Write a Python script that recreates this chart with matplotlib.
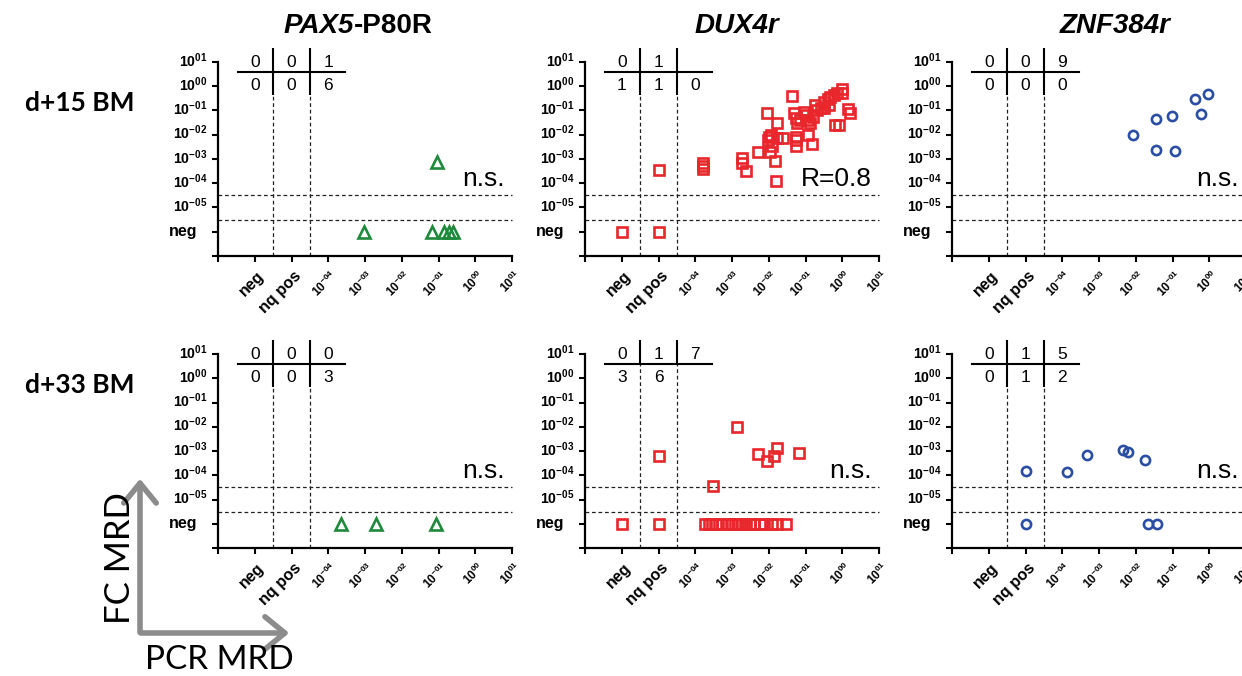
import matplotlib
matplotlib.use('Agg')
import matplotlib.pyplot as plt
from matplotlib.patches import FancyArrowPatch
from matplotlib.patches import ArrowStyle

plt.rcParams['font.family'] = ['Liberation Sans', 'DejaVu Sans']
plt.rcParams['mathtext.fontset'] = 'custom'
plt.rcParams['mathtext.rm'] = 'Liberation Sans'
plt.rcParams['mathtext.bf'] = 'Liberation Sans:bold'
plt.rcParams['mathtext.it'] = 'Liberation Sans:italic'

# ---------------- data (log10 MRD values; 'neg' / 'nq' = categories) -------------
genes = ["PAX5", "DUX4r", "ZNF384r"]
timepoints = ["d+15 BM", "d+33 BM"]
x_tick_labels = ["neg", "nq pos", "-04", "-03", "-02", "-01", "00", "01"]
y_tick_labels = ["neg", "-05", "-04", "-03", "-02", "-01", "00", "01"]

pax5_d15_pcr = [-3.04, -1.17, -0.86, -0.72, -0.60, -1.04]
pax5_d15_fc = ['neg', 'neg', 'neg', 'neg', 'neg', -3.11]

dux4_d15_pcr = ['neg', 'nq', 'nq', -3.78, -3.78, -3.78, -2.73, -2.73, -2.61, -2.28,
                -2.05, -2.00, -2.02, -1.95, -1.97, -1.83, -1.81, -1.77, -1.77, -1.60,
                -1.38, -1.31, -1.26, -1.22, -1.26, -1.26, -1.26, -1.05, -0.98, -0.92,
                -0.87, -0.93, -0.82, -0.73, -0.68, -0.59, -0.50, -0.40, -0.32, -0.23,
                -0.14, -0.50, -0.36, -0.20, -0.08, -0.02, -0.02, 0.16, 0.20, -1.15,
                -0.80, -1.90]
dux4_d15_fc = ['neg', 'neg', -3.45, -3.15, -3.28, -3.42, -2.97, -3.15, -3.50, -2.70,
               -1.12, -2.08, -2.20, -2.02, -2.70, -3.07, -3.90, -1.53, -2.15, -2.15,
               -0.40, -1.12, -1.32, -1.53, -2.08, -2.22, -2.46, -1.05, -1.19, -1.39,
               -1.53, -2.01, -2.38, -0.77, -0.98, -0.91, -0.64, -0.54, -0.46, -0.36,
               -0.29, -0.91, -0.77, -1.60, -1.60, -0.13, -0.29, -0.95, -1.09, -1.40,
               -1.25, -2.45]

znf_d15_pcr = [-2.08, -1.46, -1.01, -1.44, -0.92, -0.38, -0.04, -0.22]
znf_d15_fc = [-2.01, -1.37, -1.23, -2.63, -2.67, -0.54, -0.32, -1.14]

pax5_d33_pcr = [-3.65, -2.69, -1.06]
pax5_d33_fc = ['neg', 'neg', 'neg']

dux4_d33_pcr = ['neg', 'nq', 'nq', -3.53, -2.87, -2.30, -2.05, -1.87, -1.78, -1.18,
                -3.73, -3.63, -3.54, -3.43, -3.27, -3.10, -3.02, -2.91, -2.83, -2.72,
                -2.61, -2.50, -2.40, -2.23, -2.12, -1.91, -1.77, -1.53]
dux4_d33_fc = ['neg', 'neg', -3.19, -4.43, -1.99, -3.11, -3.40, -3.22, -2.88, -3.08,
               'neg', 'neg', 'neg', 'neg', 'neg', 'neg', 'neg', 'neg', 'neg', 'neg',
               'neg', 'neg', 'neg', 'neg', 'neg', 'neg', 'neg', 'neg']

znf_d33_pcr = ['nq', 'nq', -3.88, -3.32, -2.34, -2.21, -1.75, -1.68, -1.42]
znf_d33_fc = [-3.81, 'neg', -3.87, -3.15, -2.95, -3.03, -3.36, 'neg', 'neg']

# quadrant counts: top row (FC pos), bottom row (FC neg); columns PCR neg / nq / pos
counts_top = [[[0, 0, 1], [0, 1, ''], [0, 0, 9]],
              [[0, 0, 0], [0, 1, 7], [0, 1, 5]]]
counts_bottom = [[[0, 0, 6], [1, 1, 0], [0, 0, 0]],
                 [[0, 0, 3], [3, 6, ''], [0, 1, 2]]]
stat_labels = [["n.s.", "R=0.8", "n.s."], ["n.s.", "n.s.", "n.s."]]

pcr_data = [[pax5_d15_pcr, dux4_d15_pcr, znf_d15_pcr], [pax5_d33_pcr, dux4_d33_pcr, znf_d33_pcr]]
fc_data = [[pax5_d15_fc, dux4_d15_fc, znf_d15_fc], [pax5_d33_fc, dux4_d33_fc, znf_d33_fc]]

# ---------------- styles ---------------------------------------------------------
colors = ['#1f8a3c', '#e8262b', '#2a4ea6']
markers = ['^', 's', 'o']
msizes = [8.0, 6.5, 6.6]

W, H = 1242, 676
fig = plt.figure(figsize=(W / 100, H / 100), dpi=100)

col_x0 = [218, 585, 952]
row_y0 = [256, 548]
AW, AH = 294, 194


def pos(v):
    if v == 'neg':
        return 1.0
    if v == 'nq':
        return 2.0
    return v + 7.0


def exp_label(e):
    return r'$\mathbf{10^{%s}}$' % e


for r in range(2):
    for c in range(3):
        x0, y0 = col_x0[c], row_y0[r]
        ax = fig.add_axes([x0 / W, 1 - y0 / H, AW / W, AH / H])
        ax.set_xlim(0, 8)
        ax.set_ylim(0, 8)
        for s in ['top', 'right']:
            ax.spines[s].set_visible(False)
        for s in ['left', 'bottom']:
            ax.spines[s].set_linewidth(1.6)
        ax.set_xticks(range(9))
        ax.set_yticks(range(9))
        ax.set_xticklabels([])
        ax.set_yticklabels([])
        ax.tick_params(direction='out', length=4.5, width=1.5)

        # y tick labels
        for i, lab in enumerate(y_tick_labels):
            y = i + 1
            if lab == 'neg':
                ax.text(-0.55, y - 0.17, 'neg', ha='right', va='baseline',
                        fontsize=11.5, fontweight='bold', clip_on=False)
            else:
                ax.text(-0.28, y - 0.19, exp_label(lab), ha='right', va='baseline',
                        fontsize=10.2, clip_on=False)
        # x tick labels
        for i, lab in enumerate(x_tick_labels):
            x = i + 1
            if lab in ('neg', 'nq pos'):
                ax.text(x + 0.05, -0.5, lab, ha='right', va='top', rotation=45,
                        rotation_mode='anchor', fontsize=11.5, fontweight='bold',
                        clip_on=False)
            else:
                ax.text(x + 0.05, -0.5, exp_label(lab), ha='right', va='top',
                        rotation=45, rotation_mode='anchor', fontsize=8.6,
                        clip_on=False)

        # threshold lines
        dash = (0, (3, 2.2))
        for yy in (1.5, 2.5):
            ax.plot([0, 8], [yy, yy], ls=dash, lw=0.9, color='#222222', clip_on=False)
        solid_bottom = 7.6 if (r == 1 and c == 1) else 6.64
        for xx in (1.5, 2.5):
            ax.plot([xx, xx], [0, solid_bottom], ls=dash, lw=0.9, color='#222222',
                    clip_on=False)
            ax.plot([xx, xx], [solid_bottom, 8.58], ls='-', lw=1.5, color='black',
                    clip_on=False, solid_capstyle='butt')
        ax.plot([0.55, 3.45], [7.6, 7.6], ls='-', lw=1.5, color='black', clip_on=False)

        # quadrant counts
        for k in range(3):
            ax.text(k + 1, 7.8, str(counts_top[r][c][k]), ha='center', va='baseline',
                    fontsize=12.5, clip_on=False)
            ax.text(k + 1, 6.83, str(counts_bottom[r][c][k]), ha='center',
                    va='baseline', fontsize=12.5, clip_on=False)

        # data points
        xs = [pos(v) for v in pcr_data[r][c]]
        ys = [pos(v) for v in fc_data[r][c]]
        ax.plot(xs, ys, ls='none', marker=markers[c], ms=msizes[c], mfc='none',
                mec=colors[c], mew=1.9, clip_on=False)

        ax.text(7.8, 2.88, stat_labels[r][c], ha='right', va='baseline',
                fontsize=19, clip_on=False)

# titles
fig.text(354 / W, 1 - 33 / H, 'PAX5', ha='right', va='baseline', fontsize=20,
         fontweight='bold', fontstyle='italic')
fig.text(354 / W, 1 - 33 / H, '-P80R', ha='left', va='baseline', fontsize=20,
         fontweight='bold')
fig.text(737 / W, 1 - 33 / H, genes[1], ha='center', va='baseline', fontsize=20,
         fontweight='bold', fontstyle='italic')
fig.text(1115 / W, 1 - 33 / H, genes[2], ha='center', va='baseline', fontsize=20,
         fontweight='bold', fontstyle='italic')

# row labels
fig.text(25 / W, 1 - 103 / H, timepoints[0], ha='left', va='center', fontsize=19,
         fontweight='bold', family=['Lato', 'DejaVu Sans'])
fig.text(25 / W, 1 - 385 / H, timepoints[1], ha='left', va='center', fontsize=19,
         fontweight='bold', family=['Lato', 'DejaVu Sans'])

# axis legend arrows
gray = '#8c8c8c'
style = ArrowStyle('->', head_length=0.55, head_width=0.45)
fig.add_artist(FancyArrowPatch((140 / W, 1 - 635 / H), (140 / W, 1 - 476 / H),
                               transform=fig.transFigure, arrowstyle=style,
                               mutation_scale=26, lw=4, color=gray))
fig.add_artist(FancyArrowPatch((138 / W, 1 - 633 / H), (292 / W, 1 - 633 / H),
                               transform=fig.transFigure, arrowstyle=style,
                               mutation_scale=26, lw=4, color=gray))
fig.text(120 / W, 1 - 558 / H, 'FC MRD', rotation=90, ha='center', va='center',
         fontsize=25, family=['Lato', 'DejaVu Sans'])
fig.text(219 / W, 1 - 660 / H, 'PCR MRD', ha='center', va='center', fontsize=24,
         family=['Lato', 'DejaVu Sans'])

fig.savefig('out.png', dpi=100)
